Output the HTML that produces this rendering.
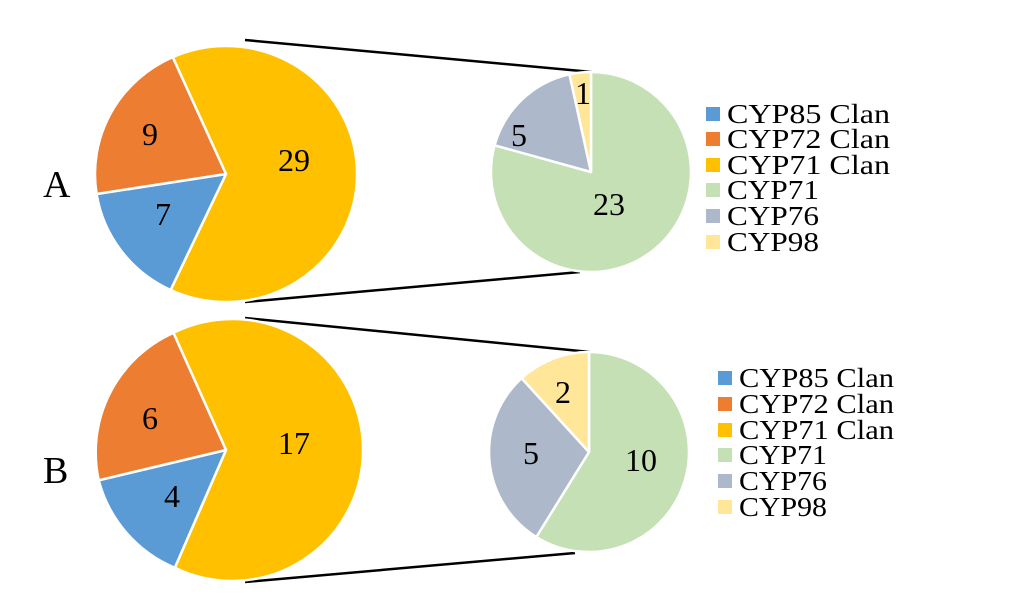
<!DOCTYPE html>
<html><head><meta charset="utf-8"><style>
html,body{margin:0;padding:0;background:#fff;}
svg{display:block;}
text{font-family:"Liberation Serif",serif;fill:#000;}
</style></head><body>
<svg width="1032" height="613" viewBox="0 0 1032 613" xmlns="http://www.w3.org/2000/svg">
<g stroke="#000" stroke-width="2.5">
<line x1="245" y1="40" x2="592" y2="72"/>
<line x1="245" y1="302" x2="580" y2="272"/>
<line x1="245" y1="318" x2="590" y2="352"/>
<line x1="245" y1="582" x2="575" y2="553"/>
</g>
<g stroke="#fff" stroke-width="2.5" stroke-linejoin="round">
<path d="M226,174 L172.7,57.1 A131,128 0 1 1 170.6,290 Z" fill="#FFC000"/>
<path d="M226,174 L170.6,290 A131,128 0 0 1 96.6,194 Z" fill="#5B9BD5"/>
<path d="M226,174 L96.6,194 A131,128 0 0 1 172.7,57.1 Z" fill="#ED7D31"/>
<path d="M591,172 L591,72 A100,100 0 1 1 494.6,145.3 Z" fill="#C5E0B4"/>
<path d="M591,172 L494.6,145.3 A100,100 0 0 1 569.5,74.3 Z" fill="#ADB9CA"/>
<path d="M591,172 L569.5,74.3 A100,100 0 0 1 591,72 Z" fill="#FFE699"/>
<path d="M226,450 L173.4,332.8 A131,131 0 1 1 174.8,567.8 Z" fill="#FFC000"/>
<path d="M226,450 L174.8,567.8 A131,131 0 0 1 98.7,480.3 Z" fill="#5B9BD5"/>
<path d="M226,450 L98.7,480.3 A131,131 0 0 1 173.4,332.8 Z" fill="#ED7D31"/>
<path d="M589,452 L589,352 A100,100 0 1 1 536.3,537 Z" fill="#C5E0B4"/>
<path d="M589,452 L536.3,537 A100,100 0 0 1 521.6,378.2 Z" fill="#ADB9CA"/>
<path d="M589,452 L521.6,378.2 A100,100 0 0 1 589,352 Z" fill="#FFE699"/>
</g>
<g font-size="32" text-anchor="middle">
<text x="150" y="145">9</text>
<text x="294" y="171">29</text>
<text x="163" y="225">7</text>
<text x="583" y="104">1</text>
<text x="519" y="146">5</text>
<text x="609" y="215">23</text>
<text x="150" y="429">6</text>
<text x="294" y="454">17</text>
<text x="172" y="507">4</text>
<text x="563" y="403">2</text>
<text x="531" y="464">5</text>
<text x="641" y="471">10</text>
</g>
<text x="43" y="197" font-size="38">A</text>
<text x="43" y="483" font-size="38">B</text>
<g font-size="27">
<rect x="706" y="107" width="14" height="14" fill="#5B9BD5"/><text x="727" y="123" textLength="163" lengthAdjust="spacingAndGlyphs">CYP85 Clan</text>
<rect x="706" y="132" width="14" height="14" fill="#ED7D31"/><text x="727" y="148" textLength="163" lengthAdjust="spacingAndGlyphs">CYP72 Clan</text>
<rect x="706" y="158" width="14" height="14" fill="#FFC000"/><text x="727" y="174" textLength="163" lengthAdjust="spacingAndGlyphs">CYP71 Clan</text>
<rect x="706" y="183" width="14" height="14" fill="#C5E0B4"/><text x="727" y="199" textLength="92" lengthAdjust="spacingAndGlyphs">CYP71</text>
<rect x="706" y="209" width="14" height="14" fill="#ADB9CA"/><text x="727" y="225" textLength="92" lengthAdjust="spacingAndGlyphs">CYP76</text>
<rect x="706" y="235" width="14" height="14" fill="#FFE699"/><text x="727" y="251" textLength="92" lengthAdjust="spacingAndGlyphs">CYP98</text>
<rect x="718" y="371" width="14" height="14" fill="#5B9BD5"/><text x="739" y="387" textLength="155" lengthAdjust="spacingAndGlyphs">CYP85 Clan</text>
<rect x="718" y="397" width="14" height="14" fill="#ED7D31"/><text x="739" y="413" textLength="155" lengthAdjust="spacingAndGlyphs">CYP72 Clan</text>
<rect x="718" y="423" width="14" height="14" fill="#FFC000"/><text x="739" y="439" textLength="155" lengthAdjust="spacingAndGlyphs">CYP71 Clan</text>
<rect x="718" y="448" width="14" height="14" fill="#C5E0B4"/><text x="739" y="464" textLength="88" lengthAdjust="spacingAndGlyphs">CYP71</text>
<rect x="718" y="474" width="14" height="14" fill="#ADB9CA"/><text x="739" y="490" textLength="88" lengthAdjust="spacingAndGlyphs">CYP76</text>
<rect x="718" y="500" width="14" height="14" fill="#FFE699"/><text x="739" y="516" textLength="88" lengthAdjust="spacingAndGlyphs">CYP98</text>
</g>
</svg>
</body></html>
